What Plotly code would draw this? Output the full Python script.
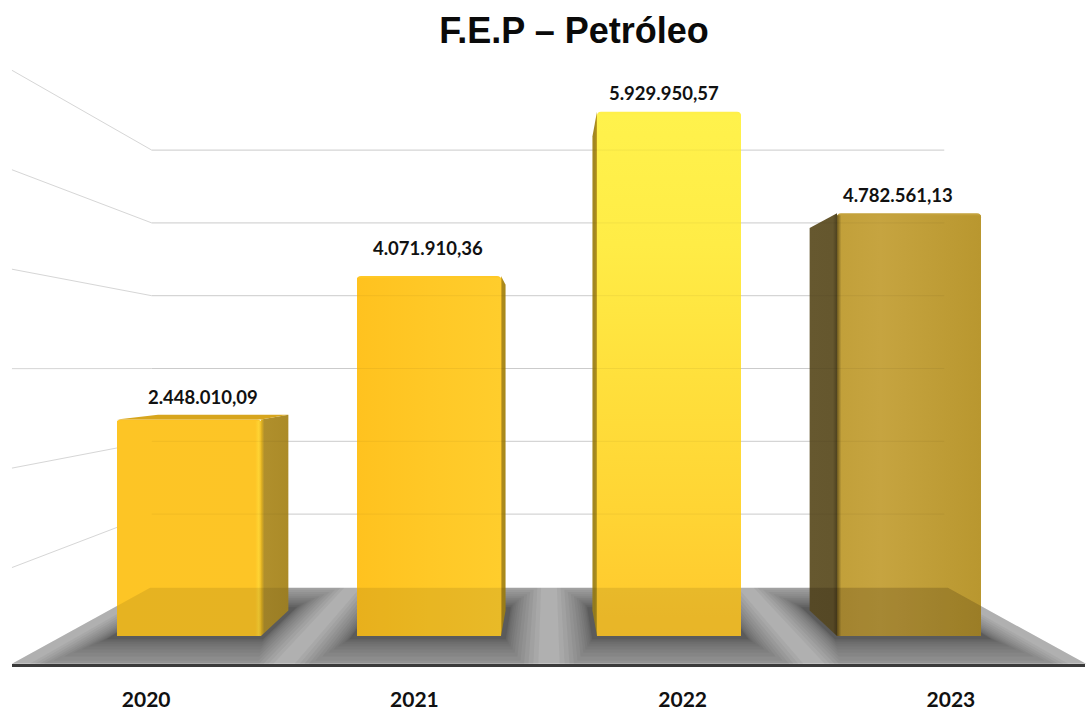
import plotly.graph_objects as go

# --- data ---
years = ["2020", "2021", "2022", "2023"]
values = [2448010.09, 4071910.36, 5929950.57, 4782561.13]
value_labels = ["2.448.010,09", "4.071.910,36", "5.929.950,57", "4.782.561,13"]
grid_values = [0, 1000000, 2000000, 3000000, 4000000, 5000000, 6000000]
title_text = "F.E.P – Petróleo"

# --- styles ---
front_base = ["#fdc424", "#ffc826", "#fff04a", "#c4a23c"]
front_grad = [
    ("horizontal", [(0, "#fdc525"), (0.96, "#fdc526"), (0.985, "#ffd434"), (1, "#ecbc28")]),
    ("horizontal", [(0, "#ffc21f"), (0.5, "#ffc826"), (1, "#ffcd2c")]),
    ("vertical", [(0, "#ffc72c"), (0.25, "#ffd534"), (0.5, "#ffe03c"), (0.75, "#ffec46"), (1, "#fff24c")]),
    ("horizontal", [(0, "#6e5a1e"), (0.03, "#c2a03a"), (0.3, "#c6a440"), (1, "#b9972f")]),
]
side_grad = [
    [(0, "#e8b720"), (0.12, "#b08f2c"), (1, "#ab8b28")],
    [(0, "#e2b020"), (0.3, "#ab8a1e"), (1, "#a88818")],
    [(0, "#a68a20"), (0.6, "#a08520"), (1, "#c8a41e")],
    [(0, "#66582f"), (0.85, "#65572e"), (1, "#4e4220")],
]
top_colors = ["#d7a51d", "#d7a51d", "#d7a51d", "#66582f"]
label_shift = [(14, 23), (-1, 28), (-5, 19), (-11, 18)]
GRID = "#d6d6d6"
FONT = "Lato"

# --- projection: world (X, value, depth t) -> axis coordinates ---
V_VP, X_VP = 3.03e6, 1.5  # vanishing point
T_BACK, T_FRONT, T_BAR = 0.82, 1.104, 0.905
X_L, X_R = -0.527, 3.527
HALF = 0.3
T_WALL, T_WALL_FRONT = 0.8235, 1.125
WALL_L, WALL_R, WALL_FRONT_X = -0.51, 3.5, -0.489
WALL_LIFT = 25000


def proj(x, v, t):
    return X_VP + (x - X_VP) * t, V_VP + (v - V_VP) * t


def poly(pts):
    xs, ys = zip(*[proj(*p) for p in pts])
    return list(xs) + [xs[0]], list(ys) + [ys[0]]


fig = go.Figure()


def area(pts, color=None, grad=None, gtype="vertical", layer=1):
    xs, ys = poly(pts)
    kw = dict(x=xs, y=ys, mode="lines", line=dict(width=0), fill="toself",
              hoverinfo="skip", showlegend=False,
              xaxis="x" if layer == 1 else "x2", yaxis="y" if layer == 1 else "y2")
    if grad:
        kw["fillgradient"] = dict(type=gtype, colorscale=[[p, c] for p, c in grad])
    else:
        kw["fillcolor"] = color
    fig.add_trace(go.Scatter(**kw))


def seg(pts, color, width=1, layer=1):
    xs, ys = zip(*[proj(*p) for p in pts])
    fig.add_trace(go.Scatter(x=xs, y=ys, mode="lines", line=dict(color=color, width=width),
                             hoverinfo="skip", showlegend=False,
                             xaxis="x" if layer == 1 else "x2", yaxis="y" if layer == 1 else "y2"))


# back wall and left wall grid
for g in grid_values[1:]:
    w = g + WALL_LIFT
    seg([(WALL_FRONT_X, w, T_WALL_FRONT), (WALL_L, w, T_WALL), (WALL_R, w, T_WALL)], GRID)

# floor
area([(X_L, 0, T_FRONT), (X_R, 0, T_FRONT), (X_R, 0, T_BACK), (X_L, 0, T_BACK)], "#c2c2c2")
N_SHADOW = 14
for i in range(4):
    for k in range(N_SHADOW):
        f = (N_SHADOW - k) / N_SHADOW
        ex, ef, eb = 0.02 + 0.14 * f ** 2, 0.01 + 0.16 * f ** 2, 0.01 + 0.085 * f ** 1.5
        x0, x1 = max(i - HALF - ex, X_L), min(i + HALF + ex, X_R)
        t0, t1 = max(T_BAR - eb, T_BACK), min(1 + ef, T_FRONT)
        area([(x0, 0, t1), (x1, 0, t1), (x1, 0, t0), (x0, 0, t0)], "rgba(0,0,0,0.045)")

# bars: front faces come from the bar trace
fig.add_trace(go.Bar(x=list(range(4)), y=values, width=2 * HALF, xaxis="x2", yaxis="y2",
                     marker=dict(color=front_base, line=dict(width=0)),
                     hoverinfo="skip", showlegend=False))

for i, v in enumerate(values):
    l, r = i - HALF, i + HALF
    edge = r if i < 2 else l
    # side face
    area([(edge, 0, 1), (edge, v, 1), (edge, v, T_BAR), (edge, 0, T_BAR)],
         grad=side_grad[i], gtype="horizontal", layer=2)
    # top face (visible only below the vanishing point)
    if v < V_VP:
        area([(l, v, 1), (r, v, 1), (r, v, T_BAR), (l, v, T_BAR)], top_colors[i], layer=2)
    # front shading
    gtype, colors = front_grad[i]
    area([(l, 0, 1), (r, 0, 1), (r, v * 0.995, 1), (l, v * 0.995, 1)],
         grad=colors, gtype=gtype, layer=2)

# faint wall lines seen through the bars
for g in grid_values[1:]:
    w = g + WALL_LIFT
    seg([(WALL_L, w, T_WALL), (WALL_R, w, T_WALL)], "rgba(0,0,0,0.05)", layer=2)

# translucent floor sheet over the bars
area([(X_L, 0, T_FRONT), (X_R, 0, T_FRONT), (X_R, 0, T_BACK), (X_L, 0, T_BACK)],
     "rgba(0,0,0,0.09)", layer=2)

# the last bar is seen through more of the sheet: extra tint limited to its silhouette
l3, r3 = 3 - HALF, 3 + HALF
t_edge = (r3 - X_VP) / (X_R - X_VP)
x_back = X_VP + (l3 - X_VP) * T_BAR / T_BACK
area([(l3, 0, 1), (r3, 0, 1), (X_R, 0, t_edge), (X_R, 0, T_BACK), (x_back, 0, T_BACK), (l3, 0, T_BAR)],
     "rgba(30,15,0,0.09)", layer=2)

# category axis along the floor's front edge
fig.add_trace(go.Scatter(x=years, y=[0] * 4, xaxis="x3", yaxis="y3", mode="markers",
                         marker=dict(opacity=0), hoverinfo="skip", showlegend=False))

annotations = [
    dict(x=i, y=v, xref="x2", yref="y2", text=f"<b>{t}</b>", showarrow=False,
         xshift=label_shift[i][0], yshift=label_shift[i][1],
         font=dict(family=FONT, size=18.5, color="#111111"))
    for i, (v, t) in enumerate(zip(values, value_labels))
]

W, H = 1091, 711
xr = [-189 / 240, (W - 189) / 240]
yr = [(636 - H) / 88.4 * 1e6, 636 / 88.4 * 1e6]
hidden = dict(visible=False, fixedrange=True)

fig.update_layout(
    width=W, height=H, autosize=False,
    margin=dict(l=0, r=0, t=0, b=0, pad=0, autoexpand=False),
    paper_bgcolor="white", plot_bgcolor="rgba(0,0,0,0)",
    barcornerradius=4,
    title=dict(text=f"<b>{title_text}</b>", x=574 / W, xanchor="center",
               y=1 - 30 / H, yanchor="middle",
               font=dict(family="Liberation Sans", size=36, color="#0a0a0a")),
    xaxis=dict(range=xr, domain=[0, 1], **hidden),
    yaxis=dict(range=yr, domain=[0, 1], **hidden),
    xaxis2=dict(range=xr, overlaying="x", **hidden),
    yaxis2=dict(range=yr, overlaying="y", **hidden),
    xaxis3=dict(type="category", domain=[12 / W, 1085 / W], anchor="y3", side="bottom",
                range=[-0.5, 3.5],
                showline=True, linecolor="#3a3a3a", linewidth=2.5, showgrid=False,
                ticks="outside", ticklen=15, tickcolor="rgba(0,0,0,0)", zeroline=False,
                tickfont=dict(family=FONT, size=21, color="#111111", weight="bold"),
                fixedrange=True),
    yaxis3=dict(domain=[1 - 664 / H, 1], anchor="x3", range=[0, 1], **hidden),
    annotations=annotations,
)

fig.write_html("out.html", config={"displayModeBar": False},
               post_script="document.body.style.margin='0';")
